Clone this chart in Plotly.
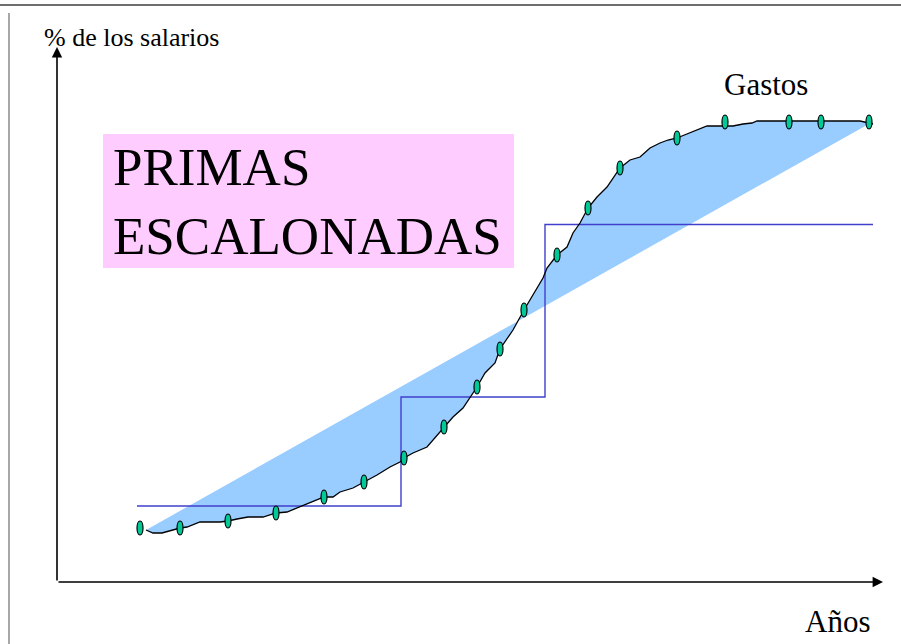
import plotly.graph_objects as go

# ---- data (years, % de los salarios) ----
gastos_x = [4.45, 4.8, 5.25, 6.15, 6.5, 7.15, 8.15, 8.55, 9.0, 9.55, 10.3, 10.95, 11.5, 12.15,
            12.8, 13.35, 13.8, 14.15, 14.8, 15.35, 16.0, 16.65, 17.15, 17.35, 17.8, 18.5, 18.8,
            19.35, 19.8, 20.3, 20.65, 21.0, 21.4, 21.9, 22.15, 22.8, 23.35, 23.75, 24.05, 24.3,
            24.5, 25.0, 25.5, 25.8, 26.15, 26.55, 27.0, 27.5, 28.15, 28.65, 29.15, 29.65, 30.15,
            30.55, 31.0, 31.65, 32.5, 33.4, 33.8, 34.3, 34.75, 35.0, 40.15, 40.6, 40.8]
gastos_y = [10.4, 9.8, 9.8, 10.8, 11.0, 12.0, 12.0, 12.2, 12.6, 13.0, 13.0, 13.8, 14.0, 15.0,
            16.0, 17.0, 17.0, 18.0, 18.8, 20.0, 21.4, 23.0, 24.0, 24.8, 25.8, 27.0, 28.4,
            31.0, 33.0, 34.8, 37.0, 39.0, 41.8, 43.8, 46.6, 50.4, 54.4, 57.0, 59.0, 60.8,
            62.8, 65.4, 67.0, 69.8, 71.8, 74.8, 77.0, 79.0, 82.8, 84.4, 85.0, 86.8, 87.8,
            88.4, 88.8, 89.8, 91.2, 91.2, 91.2, 91.6, 91.8, 92.2, 92.2, 91.8, 91.6]

puntos_x = [4.15, 6.15, 8.55, 10.95, 13.35, 15.35, 17.35, 19.35, 21.0, 22.15, 23.35, 25.0,
            26.55, 28.15, 31.0, 33.4, 36.6, 38.2, 40.6]
puntos_y = [10.8, 10.8, 12.2, 13.8, 17.0, 20.0, 24.8, 31.0, 39.0, 46.6, 54.4, 65.4,
            74.8, 82.8, 88.8, 92.0, 92.0, 92.0, 92.0]

nivelada_x = [4.45, 40.5]
nivelada_y = [10.4, 91.4]

escalon_x = [4.0, 17.2, 24.4, 40.8]
escalon_y = [15.2, 37.0, 71.5, 71.5]

eje_x_fin = 41.3
eje_y_fin = 107.0

SERIF = "'Liberation Serif', 'Times New Roman', Times, serif"

fig = go.Figure()

# shaded area between level premium line and expense curve
fig.add_trace(go.Scatter(
    x=nivelada_x + gastos_x[::-1], y=nivelada_y + gastos_y[::-1],
    fill="toself", fillcolor="#99CCFF", line=dict(width=0), mode="lines",
    hoverinfo="skip", showlegend=False))

# step premiums
fig.add_trace(go.Scatter(
    x=escalon_x, y=escalon_y, mode="lines", line_shape="hv",
    line=dict(color="#4040CC", width=1.4), showlegend=False))

# expense curve
fig.add_trace(go.Scatter(
    x=gastos_x, y=gastos_y, mode="lines",
    line=dict(color="black", width=1.3), showlegend=False))

shapes = []
# elliptical markers
for px, py in zip(puntos_x, puntos_y):
    shapes.append(dict(type="circle", xref="x", yref="y",
                       x0=px - 0.15, x1=px + 0.15, y0=py - 1.4, y1=py + 1.4,
                       fillcolor="#00C896", line=dict(color="black", width=1.2),
                       layer="above"))

# pink box
shapes.append(dict(type="rect", xref="x", yref="y", x0=2.3, x1=22.85, y0=62.8, y1=89.6,
                   fillcolor="#FFCCFF", line=dict(width=0), layer="below"))
# frame lines
shapes.append(dict(type="line", xref="paper", yref="paper", x0=0, x1=1,
                   y0=1 - 5 / 644, y1=1 - 5 / 644, line=dict(color="#6e6e6e", width=2)))
shapes.append(dict(type="line", xref="paper", yref="paper", x0=9 / 901, x1=9 / 901,
                   y0=0, y1=1 - 13 / 644, line=dict(color="#8a8a8a", width=1.5)))

annotations = [
    # axes with arrows
    dict(x=eje_x_fin, y=0, ax=0, ay=0, xref="x", yref="y", axref="x", ayref="y",
         showarrow=True, arrowhead=2, arrowsize=1.3, arrowwidth=1.6, arrowcolor="black", text=""),
    dict(x=0, y=eje_y_fin, ax=0, ay=0, xref="x", yref="y", axref="x", ayref="y",
         showarrow=True, arrowhead=2, arrowsize=1.3, arrowwidth=1.6, arrowcolor="black", text=""),
    dict(x=-0.75, y=109.0, xref="x", yref="y", xanchor="left", yanchor="middle",
         text="% de los salarios", showarrow=False,
         font=dict(family=SERIF, size=26, color="black")),
    dict(x=33.25, y=99.6, xref="x", yref="y", xanchor="left", yanchor="middle",
         text="Gastos", showarrow=False, font=dict(family=SERIF, size=31, color="black")),
    dict(x=37.3, y=-7.8, xref="x", yref="y", xanchor="left", yanchor="middle",
         text="Años", showarrow=False, font=dict(family=SERIF, size=31, color="black")),
    dict(x=2.7, y=76.2, xref="x", yref="y", xanchor="left", yanchor="middle", align="left",
         text="PRIMAS<br>ESCALONADAS", showarrow=False,
         font=dict(family=SERIF, size=53, color="black")),
]

fig.update_layout(
    width=901, height=644,
    margin=dict(l=0, r=0, t=0, b=0),
    paper_bgcolor="white", plot_bgcolor="white",
    font=dict(family=SERIF),
    xaxis=dict(range=[-57 / 20, (901 - 57) / 20], visible=False, fixedrange=True),
    yaxis=dict(range=[(582 - 644) / 5, 582 / 5], visible=False, fixedrange=True),
    shapes=shapes, annotations=annotations, showlegend=False,
)

fig.write_html(
    "out.html",
    config={"displayModeBar": False},
    post_script="document.body.style.margin='0';document.body.style.overflow='hidden';",
)
